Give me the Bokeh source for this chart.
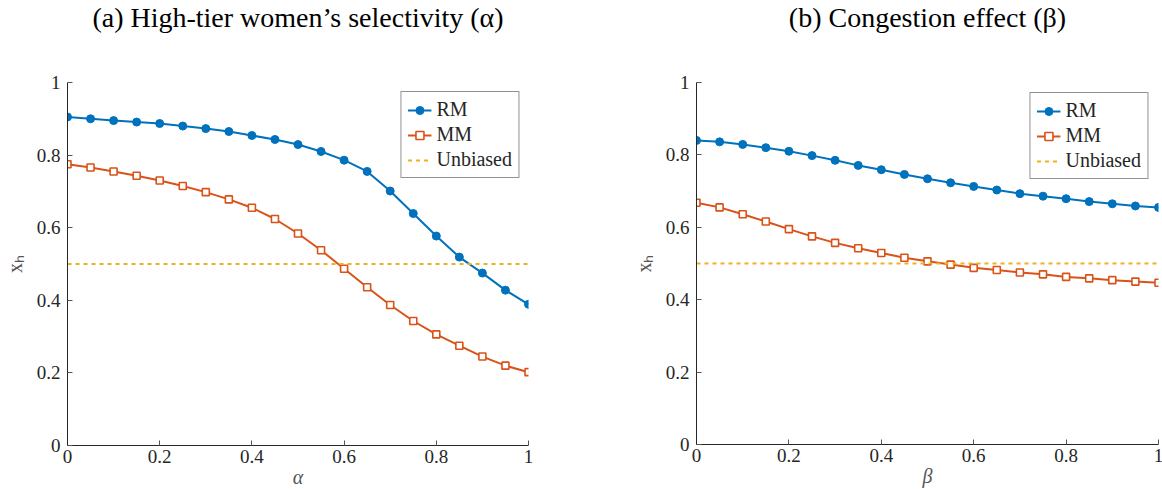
from bokeh.plotting import figure
from bokeh.layouts import row
from bokeh.models import FixedTicker, CustomJSTickFormatter, Title, Legend, LegendItem
from bokeh.embed import file_html
from bokeh.resources import INLINE

# Parameter grid shared by both panels
grid = [round(0.05 * i, 2) for i in range(21)]

# (a) high-tier women's selectivity alpha
alpha_rm = [0.905, 0.900, 0.895, 0.891, 0.887, 0.880, 0.873, 0.865, 0.854, 0.843, 0.829,
            0.810, 0.786, 0.755, 0.701, 0.639, 0.577, 0.519, 0.475, 0.428, 0.389]
alpha_mm = [0.775, 0.766, 0.755, 0.743, 0.730, 0.715, 0.698, 0.678, 0.655, 0.624, 0.584,
            0.538, 0.487, 0.436, 0.387, 0.343, 0.306, 0.275, 0.245, 0.220, 0.202]

# (b) congestion effect beta
beta_rm = [0.840, 0.836, 0.829, 0.820, 0.810, 0.798, 0.785, 0.771, 0.759, 0.746, 0.734,
           0.723, 0.713, 0.703, 0.693, 0.686, 0.679, 0.671, 0.665, 0.659, 0.655]
beta_mm = [0.668, 0.655, 0.636, 0.616, 0.595, 0.575, 0.557, 0.542, 0.529, 0.516, 0.506,
           0.497, 0.488, 0.482, 0.475, 0.470, 0.463, 0.459, 0.454, 0.450, 0.447]

unbiased_level = 0.5
unbiased_x = [0.0, 1.0]

tick_values = [0, 0.2, 0.4, 0.6, 0.8, 1]

FONT = "Liberation Serif"
TXT = "#262626"
BLUE = "#0072BD"
ORANGE = "#D95319"
GOLD = "#EDB120"


def panel(title, xlabel, rm, mm, border_left, frame_w, border_right,
          border_top, frame_h, legend_margin):
    p = figure(frame_width=frame_w, frame_height=frame_h,
               x_range=(0, 1), y_range=(0, 1),
               min_border_left=border_left, min_border_right=border_right,
               min_border_top=border_top, min_border_bottom=10,
               output_backend="svg", toolbar_location=None,
               x_axis_location="below", y_axis_location="left")
    p.title = None

    # blank gap between the frame and the panel title
    p.add_layout(Title(text=" ", text_font_size="2px", standoff=44), "above")
    # panel title
    p.add_layout(Title(text=title, align="center", vertical_align="top", standoff=0,
                       text_font=FONT, text_font_size="28px", text_font_style="normal",
                       text_color="black"), "above")

    p.xgrid.visible = False
    p.ygrid.visible = False
    p.outline_line_color = None
    p.background_fill_color = "white"
    p.border_fill_color = "white"

    for ax in (p.xaxis[0], p.yaxis[0]):
        ax.ticker = FixedTicker(ticks=tick_values)
        ax.formatter = CustomJSTickFormatter(code="return Number(tick.toFixed(2)).toString();")
        ax.major_tick_in = 5
        ax.major_tick_out = 0
        ax.minor_tick_line_color = None
        ax.axis_line_color = TXT
        ax.major_tick_line_color = "#555555"
        ax.major_label_text_font = FONT
        ax.major_label_text_font_size = "19px"
        ax.major_label_text_color = TXT
        ax.axis_label_text_font = FONT
        ax.axis_label_text_font_size = "20px"
        ax.axis_label_text_color = "#555555"

    p.xaxis.axis_label = xlabel
    p.xaxis.axis_label_text_font_style = "italic"
    p.xaxis.major_label_standoff = 4
    p.xaxis.axis_label_standoff = 0
    p.yaxis.axis_label = "xₕ"
    p.yaxis.axis_label_text_font_style = "normal"
    p.yaxis.major_label_standoff = 7
    p.yaxis.axis_label_standoff = 8

    r1 = p.line(grid, rm, line_color=BLUE, line_width=2)
    r1m = p.scatter(grid, rm, marker="circle", size=8, fill_color=BLUE, line_color=BLUE)
    r2 = p.line(grid, mm, line_color=ORANGE, line_width=2)
    r2m = p.scatter(grid, mm, marker="square", size=7, fill_color="white",
                    line_color=ORANGE, line_width=1.6)
    r3 = p.line(unbiased_x, [unbiased_level] * len(unbiased_x), line_color=GOLD,
                line_width=2, line_dash="4 4")

    legend = Legend(items=[LegendItem(label="RM", renderers=[r1, r1m]),
                           LegendItem(label="MM", renderers=[r2, r2m]),
                           LegendItem(label="Unbiased", renderers=[r3])],
                    location="top_right", margin=legend_margin,
                    label_text_font=FONT, label_text_font_size="20px",
                    label_text_color=TXT, label_standoff=5,
                    glyph_width=24, glyph_height=20, label_height=20,
                    spacing=2, padding=6,
                    border_line_color=TXT, border_line_width=1,
                    background_fill_color="white", background_fill_alpha=1)
    p.add_layout(legend, "center")
    return p


left = panel("(a) High-tier women’s selectivity (α)", "α", alpha_rm, alpha_mm,
             64, 461, 55, 82, 363, 9)
right = panel("(b) Congestion effect (β)", "β", beta_rm, beta_mm,
              113, 462, 7, 79, 362, 10)

layout = row(left, right)
open("out.html", "w").write(file_html(layout, INLINE))
